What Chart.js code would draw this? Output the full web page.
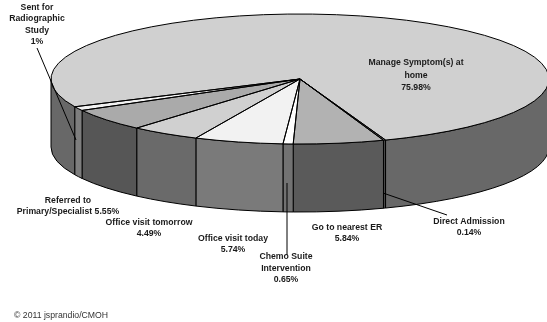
<!DOCTYPE html>
<html>
<head>
<meta charset="utf-8">
<script src="https://cdn.jsdelivr.net/npm/chart.js@4"></script>
<style>
  html, body { margin: 0; padding: 0; background: #fff; }
  canvas { display: block; }
</style>
</head>
<body>
<canvas id="pie" width="547" height="322"></canvas>
<script>
// Triage outcomes, in drawing order, clockwise from the large slice
const categories = ['Manage Symptom(s) at home', 'Direct Admission', 'Go to nearest ER',
  'Chemo Suite Intervention', 'Office visit today', 'Office visit tomorrow',
  'Referred to Primary/Specialist', 'Sent for Radiographic Study'];
const shares = [75.98, 0.14, 5.84, 0.65, 5.74, 4.49, 5.55, 1];
const topColors = ['#d0d0d0', '#8c8c8c', '#b2b2b2', '#ffffff', '#f2f2f2', '#d0d0d0', '#aaaaaa', '#f2f2f2'];
const wallColors = ['#686868', '#484848', '#5a5a5a', '#727272', '#7a7a7a', '#6a6a6a', '#565656', '#7e7e7e'];

// Text blocks: [centre x, first baseline, line pitch, lines]
const captions = [
  [416, 65, 12.5, ['Manage Symptom(s) at', 'home', '75.98%']],
  [37, 10, 11.3, ['Sent for', 'Radiographic', 'Study', '1%']],
  [68, 203, 11, ['Referred to', 'Primary/Specialist 5.55%']],
  [149, 225, 11, ['Office visit tomorrow', '4.49%']],
  [233, 241, 11, ['Office visit today', '5.74%']],
  [286, 259, 11.5, ['Chemo Suite', 'Intervention', '0.65%']],
  [347, 230, 11, ['Go to nearest ER', '5.84%']],
  [469, 224, 11, ['Direct Admission', '0.14%']]
];
const leaders = [
  [37, 48, 76, 140],
  [287, 183, 287, 255],
  [383, 193, 447, 215]
];
const creditLine = '\u00A9 2011 jsprandio/CMOH';

// Oblique view of the disc: horizontal and vertical radii, and the wall height
const RX = 249, RY = 65, DEPTH = 68;

function ellipseArc(ctx, m, from, to, dy, ccw) {
  ctx.ellipse(m.x, m.y + dy, RX, RY, 0, from, to, ccw);
}

const TAU = Math.PI * 2;

// Portions of an arc that face the viewer (canvas angles 0..PI, modulo a turn)
function frontSpans(start, end) {
  const spans = [];
  for (let k = -1; k <= 2; k++) {
    const a = Math.max(start, k * TAU);
    const b = Math.min(end, k * TAU + Math.PI);
    if (b > a) spans.push([a, b]);
  }
  return spans;
}

const tiltedDisc = {
  id: 'tiltedDisc',
  beforeDatasetsDraw(chart) {
    const ctx = chart.ctx;
    const arcs = chart.getDatasetMeta(0).data;
    const c = arcs[0];
    const R = c.outerRadius;

    ctx.save();
    ctx.lineWidth = 1;
    ctx.strokeStyle = '#000';
    arcs.forEach((arc, i) => {
      frontSpans(arc.startAngle, arc.endAngle).forEach(([a, b]) => {
        ctx.beginPath();
        ellipseArc(ctx, c, a, b, 0, false);
        ellipseArc(ctx, c, b, a, DEPTH, true);
        ctx.closePath();
        ctx.fillStyle = wallColors[i];
        ctx.fill();
        ctx.stroke();
      });
    });
    ctx.restore();

    // The library paints the slices into this squashed space
    ctx.save();
    ctx.translate(c.x, c.y);
    ctx.scale(RX / R, RY / R);
    ctx.translate(-c.x, -c.y);
  },
  afterDatasetsDraw(chart) {
    const ctx = chart.ctx;
    ctx.restore();
    const arcs = chart.getDatasetMeta(0).data;
    const c = arcs[0];

    // Even-width outlines over the squashed slices
    ctx.save();
    ctx.lineWidth = 1;
    ctx.strokeStyle = '#000';
    arcs.forEach(arc => {
      ctx.beginPath();
      ctx.moveTo(c.x, c.y);
      ellipseArc(ctx, c, arc.startAngle, arc.endAngle, 0, false);
      ctx.closePath();
      ctx.stroke();
    });

    leaders.forEach(([x1, y1, x2, y2]) => {
      ctx.beginPath();
      ctx.moveTo(x1, y1);
      ctx.lineTo(x2, y2);
      ctx.stroke();
    });

    ctx.fillStyle = '#1a1a1a';
    ctx.textAlign = 'center';
    ctx.textBaseline = 'alphabetic';
    ctx.font = 'bold 8.7px "Liberation Sans", Arial, sans-serif';
    captions.forEach(([x, y, pitch, lines]) => {
      lines.forEach((line, n) => ctx.fillText(line, x, y + n * pitch));
    });

    ctx.font = '8.7px "Liberation Sans", Arial, sans-serif';
    ctx.fillStyle = '#333';
    ctx.textAlign = 'left';
    ctx.fillText(creditLine, 14, 318);
    ctx.restore();
  }
};

new Chart(document.getElementById('pie'), {
  type: 'pie',
  data: {
    labels: categories,
    datasets: [{
      data: shares,
      backgroundColor: topColors,
      borderWidth: 0,
      clip: false
    }]
  },
  options: {
    responsive: false,
    animation: false,
    rotation: 244.7,
    layout: { padding: { left: 53, right: 0, top: 0, bottom: 164 } },
    plugins: { legend: { display: false }, tooltip: { enabled: false } }
  },
  plugins: [tiltedDisc]
});
</script>
</body>
</html>
